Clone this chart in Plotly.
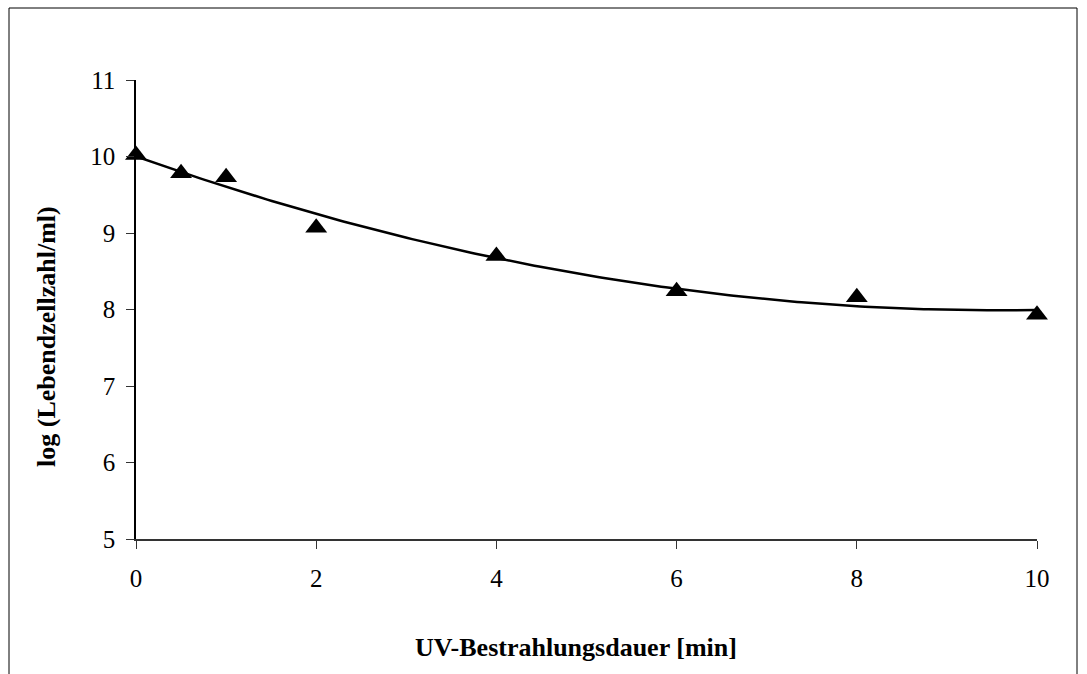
import numpy as np
import plotly.graph_objects as go

# Data
time_min = [0, 0.5, 1, 2, 4, 6, 8, 10]
log_cells = [10.02, 9.78, 9.73, 9.07, 8.70, 8.24, 8.16, 7.93]
x_ticks = [0, 2, 4, 6, 8, 10]
y_ticks = [5, 6, 7, 8, 9, 10, 11]

# Polynomial trendline (order 2), as in the original
coef = np.polyfit(time_min, log_cells, 2)
xs = np.linspace(0, 10, 200)
ys = np.polyval(coef, xs)

W, H = 1087, 674
L, R, T, B = 136, 50, 80, 135
pw = W - L - R
ph = H - T - B

fig = go.Figure()
fig.add_trace(go.Scatter(x=xs, y=ys, mode="lines",
                         line=dict(color="black", width=2.5), hoverinfo="skip",
                         showlegend=False, cliponaxis=False))
fig.add_trace(go.Scatter(x=time_min, y=log_cells, mode="markers",
                         marker=dict(symbol="triangle-up", size=19, color="black"),
                         showlegend=False, cliponaxis=False))

font_family = "Liberation Serif, Times New Roman, serif"
fig.update_layout(
    width=W, height=H,
    margin=dict(l=L, r=R, t=T, b=B),
    paper_bgcolor="white", plot_bgcolor="white",
    font=dict(family=font_family, color="black", size=25),
    xaxis=dict(range=[0, 10], tickvals=x_ticks, showgrid=False, zeroline=False,
               showline=True, linecolor="#333", linewidth=1.5,
               ticks="outside", ticklen=8, tickcolor="#333",
               ticklabelstandoff=8,
               tickfont=dict(size=25), title=None),
    yaxis=dict(range=[5, 11], tickvals=y_ticks, showgrid=False, zeroline=False,
               showline=True, linecolor="black", linewidth=1.5,
               ticks="outside", ticklen=8, tickcolor="#333",
               ticklabelstandoff=6,
               tickfont=dict(size=25), title=None),
)

def px2x(p):
    return (p - L) / pw

def py2y(p):
    return (H - B - p) / ph

fig.add_annotation(text="<b>UV-Bestrahlungsdauer [min]</b>", xref="paper", yref="paper",
                   x=px2x(576), y=py2y(647), xanchor="center", yanchor="middle",
                   showarrow=False, font=dict(size=26, family=font_family))
fig.add_annotation(text="<b>log (Lebendzellzahl/ml)</b>", xref="paper", yref="paper",
                   x=px2x(46), y=py2y(337), xanchor="center", yanchor="middle",
                   showarrow=False, textangle=-90,
                   font=dict(size=26, family=font_family))

fig.add_shape(type="rect", xref="paper", yref="paper",
              x0=px2x(9), x1=px2x(1077), y0=py2y(720), y1=py2y(8),
              line=dict(color="black", width=1), fillcolor="rgba(0,0,0,0)")

fig.write_html("out.html", config={"displayModeBar": False},
               post_script="document.body.style.margin='0';document.body.style.overflow='hidden';")
